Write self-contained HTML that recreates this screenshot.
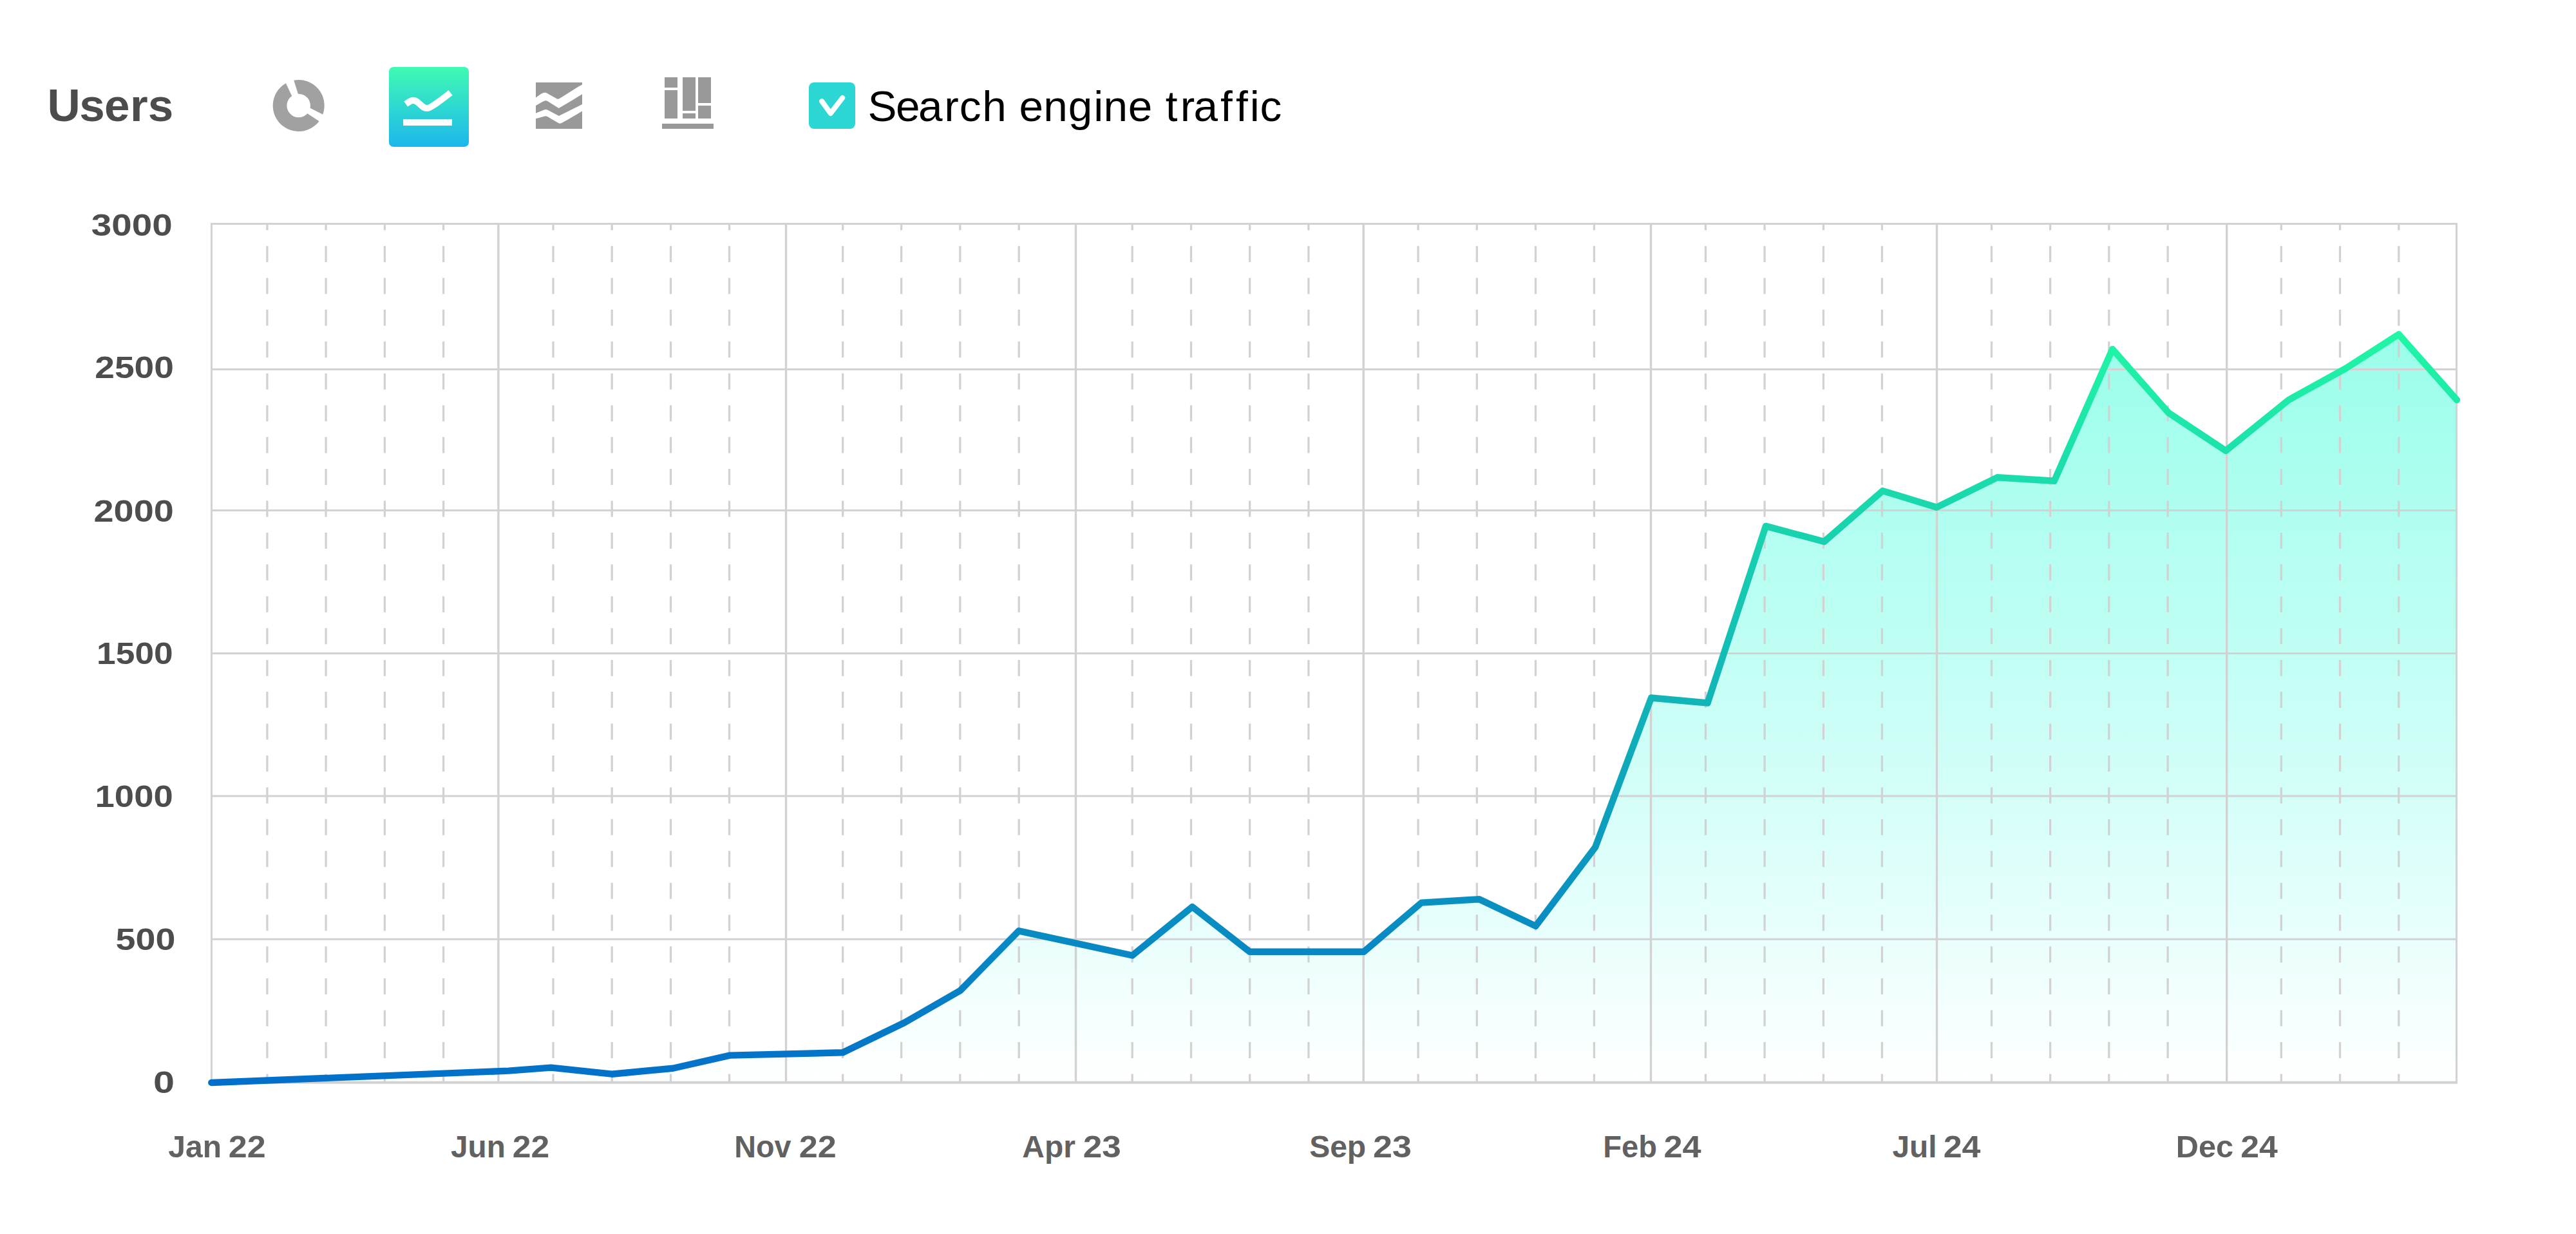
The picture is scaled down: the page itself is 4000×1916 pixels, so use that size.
<!DOCTYPE html>
<html lang="en"><head><meta charset="utf-8"><title>Users</title>
<style>
html,body{margin:0;padding:0;background:#fff;}
body{width:4000px;height:1916px;overflow:hidden;font-family:"Liberation Sans",sans-serif;}
svg{display:block;position:absolute;left:0;top:0;}
text{font-family:"Liberation Sans",sans-serif;}
</style></head><body>
<svg width="4000" height="1916" viewBox="0 0 4000 1916">
<defs>
<linearGradient id="gLine" gradientUnits="userSpaceOnUse" x1="0" y1="519" x2="0" y2="1681">
<stop offset="0" stop-color="#20F6A5"/><stop offset="1" stop-color="#0270CA"/></linearGradient>
<linearGradient id="gFill" gradientUnits="userSpaceOnUse" x1="0" y1="519" x2="0" y2="1681">
<stop offset="0" stop-color="#28FDD2" stop-opacity="0.47"/><stop offset="0.414" stop-color="#28FDD8" stop-opacity="0.295"/><stop offset="0.758" stop-color="#28FDE2" stop-opacity="0.13"/><stop offset="1" stop-color="#28FDEA" stop-opacity="0"/></linearGradient>
<linearGradient id="gBtn" x1="0" y1="0" x2="0" y2="1">
<stop offset="0" stop-color="#40FAB3"/><stop offset="1" stop-color="#1CB7ED"/></linearGradient>
</defs>

<text x="73.60 123.26 161.93 202.08 229.76" y="187.70" font-size="71" font-weight="bold" fill="#4C4C4C" style="font-variant-ligatures:none;font-kerning:none">Users</text>
<g fill="#A1A1A1"><path d="M443.86 129.26 A40.0 40.0 0 1 0 495.58 188.16 L477.29 176.26 A18.3 18.3 0 1 1 453.25 148.98 Z"/><path d="M456.28 124.69 A40.0 40.0 0 0 1 501.30 177.65 L481.62 167.71 A18.3 18.3 0 0 0 462.84 145.72 Z"/></g>
<rect x="604" y="104" width="124" height="124" rx="7" fill="url(#gBtn)"/>
<rect x="626" y="185" width="76" height="10" fill="#fff"/>
<path d="M630.2 161.5 C636 157.5 640 154.5 645 156.5 C651 159 656 168.5 663.5 168 C669 167.7 684 156 699.6 144" fill="none" stroke="#fff" stroke-width="10"/>
<g fill="#999" transform="translate(832 128)">
<path d="M0 0 H72 V3.6 C69 5 67 6 65 7.3 L40 23 C37 25 35 26.3 33 25.6 L17 16.5 C15 15.4 13.5 15.4 11.5 16.2 C7 18 3 21 0 23.7 Z"/>
<path d="M0 36.1 C4 33.5 8 31 12 29.2 C14.5 28 16.5 28 18.5 29.2 L35.7 40.1 C48 33 60 25.5 72 18.2 V34 L35.8 51.9 L19 43 C17 42 15 41.8 13 42.5 L0 47.8 Z"/>
<path d="M0 56.3 L12 53 C14.5 52.2 16 52 18 53 L35 63 C36.5 64 37.5 64 39.5 63.3 C50 57.5 61 51 72 44.4 V72 H0 Z"/>
</g>
<g fill="#999">
<rect x="1028" y="192" width="80" height="8"/>
<rect x="1032" y="120" width="20" height="16"/><rect x="1032" y="140" width="20" height="44"/>
<rect x="1060" y="120" width="20" height="52"/><rect x="1060" y="176" width="20" height="8"/>
<rect x="1084" y="120" width="20" height="40"/><rect x="1084" y="164" width="20" height="20"/>
</g>
<rect x="1256" y="128" width="72" height="72" rx="8" fill="#2CD6D3"/>
<path d="M1276.1 157.2 L1289.7 176 L1308.2 151.9" fill="none" stroke="#fff" stroke-width="8" stroke-linecap="round" stroke-linejoin="round"/>
<text x="1347.56 1391.00 1425.90 1466.23 1489.73 1525.33 1562.87 1582.50 1620.33 1658.84 1698.22 1713.43 1751.75 1789.29 1809.71 1832.83 1853.50 1895.10 1918.90 1940.72 1956.58" y="187.90" font-size="67.5" font-weight="normal" fill="#000" style="font-variant-ligatures:none;font-kerning:none">Search engine traffic</text>
<path d="M328.3 1681.0 L789.7 1662.6 L855.4 1657.6 L950.0 1667.7 L1045.0 1658.8 L1133.4 1638.6 L1308.7 1634.3 L1404.6 1587.7 L1491.1 1538.0 L1581.9 1445.3 L1758.3 1483.5 L1851.4 1408.0 L1940.6 1477.8 L2117.8 1477.8 L2207.2 1401.6 L2297.0 1396.2 L2384.6 1437.9 L2477.2 1315.4 L2564.0 1083.5 L2651.5 1091.5 L2741.9 816.9 L2832.6 841.0 L2923.4 762.1 L3007.3 787.7 L3101.3 741.3 L3189.8 746.8 L3280.2 542.1 L3367.5 641.1 L3456.2 699.9 L3553.8 621.0 L3642.3 572.1 L3724.8 519.2 L3815.0 621.0 L3814.5 1680.6 L328.5 1680.6 Z" fill="url(#gFill)"/>
<g stroke="#D2D2D2" stroke-width="3" fill="none">
<path d="M328.5 573.4 H3814.5"/>
<path d="M328.5 792.6 H3814.5"/>
<path d="M328.5 1014.5 H3814.5"/>
<path d="M328.5 1236.1 H3814.5"/>
<path d="M328.5 1458.2 H3814.5"/>
<path d="M773.9 347.5 V1680.6" stroke-width="3.4"/>
<path d="M1220.5 347.5 V1680.6" stroke-width="3.4"/>
<path d="M1670.5 347.5 V1680.6" stroke-width="3.4"/>
<path d="M2117.2 347.5 V1680.6" stroke-width="3.4"/>
<path d="M2563.5 347.5 V1680.6" stroke-width="3.4"/>
<path d="M3007.5 347.5 V1680.6" stroke-width="3.4"/>
<path d="M3457.7 347.5 V1680.6" stroke-width="3.4"/>
<path d="M328.5 1680.6 V347.5 H3814.5 V1680.6"/>
<path d="M327.0 1680.8 H3816.0" stroke-width="4"/>
</g>
<g stroke="#D2D2D2" stroke-width="3.3" stroke-dasharray="25 24.44" stroke-dashoffset="15" fill="none">
<path d="M414.9 347.5 V1680.6"/>
<path d="M506.1 347.5 V1680.6"/>
<path d="M597.4 347.5 V1680.6"/>
<path d="M688.6 347.5 V1680.6"/>
<path d="M859 347.5 V1680.6"/>
<path d="M950.2 347.5 V1680.6"/>
<path d="M1041.5 347.5 V1680.6"/>
<path d="M1132.5 347.5 V1680.6"/>
<path d="M1308.7 347.5 V1680.6"/>
<path d="M1399.6 347.5 V1680.6"/>
<path d="M1490.8 347.5 V1680.6"/>
<path d="M1582.2 347.5 V1680.6"/>
<path d="M1758.2 347.5 V1680.6"/>
<path d="M1849.5 347.5 V1680.6"/>
<path d="M1940.7 347.5 V1680.6"/>
<path d="M2031.9 347.5 V1680.6"/>
<path d="M2202.1 347.5 V1680.6"/>
<path d="M2293.3 347.5 V1680.6"/>
<path d="M2384.5 347.5 V1680.6"/>
<path d="M2475.4 347.5 V1680.6"/>
<path d="M2648.5 347.5 V1680.6"/>
<path d="M2740.1 347.5 V1680.6"/>
<path d="M2831.4 347.5 V1680.6"/>
<path d="M2922.4 347.5 V1680.6"/>
<path d="M3092.5 347.5 V1680.6"/>
<path d="M3183.6 347.5 V1680.6"/>
<path d="M3274.8 347.5 V1680.6"/>
<path d="M3366.1 347.5 V1680.6"/>
<path d="M3542.3 347.5 V1680.6"/>
<path d="M3633.5 347.5 V1680.6"/>
<path d="M3724.8 347.5 V1680.6"/>
</g>
<path d="M328.3 1681.0 L789.7 1662.6 L855.4 1657.6 L950.0 1667.7 L1045.0 1658.8 L1133.4 1638.6 L1308.7 1634.3 L1404.6 1587.7 L1491.1 1538.0 L1581.9 1445.3 L1758.3 1483.5 L1851.4 1408.0 L1940.6 1477.8 L2117.8 1477.8 L2207.2 1401.6 L2297.0 1396.2 L2384.6 1437.9 L2477.2 1315.4 L2564.0 1083.5 L2651.5 1091.5 L2741.9 816.9 L2832.6 841.0 L2923.4 762.1 L3007.3 787.7 L3101.3 741.3 L3189.8 746.8 L3280.2 542.1 L3367.5 641.1 L3456.2 699.9 L3553.8 621.0 L3642.3 572.1 L3724.8 519.2 L3815.0 621.0" fill="none" stroke="url(#gLine)" stroke-width="10.4" stroke-linecap="round" stroke-linejoin="round"/>
<text x="141.68" y="365.91" font-size="48.5" font-weight="bold" fill="#4D4D4D" textLength="125.96" lengthAdjust="spacingAndGlyphs">3000</text>
<text x="147.27" y="587.41" font-size="48.5" font-weight="bold" fill="#4D4D4D" textLength="122.72" lengthAdjust="spacingAndGlyphs">2500</text>
<text x="145.54" y="810.01" font-size="48.5" font-weight="bold" fill="#4D4D4D" textLength="124.27" lengthAdjust="spacingAndGlyphs">2000</text>
<text x="150.14" y="1031.32" font-size="48.5" font-weight="bold" fill="#4D4D4D" textLength="118.58" lengthAdjust="spacingAndGlyphs">1500</text>
<text x="147.56" y="1253.22" font-size="48.5" font-weight="bold" fill="#4D4D4D" textLength="121.20" lengthAdjust="spacingAndGlyphs">1000</text>
<text x="179.63" y="1474.92" font-size="48.5" font-weight="bold" fill="#4D4D4D" textLength="92.81" lengthAdjust="spacingAndGlyphs">500</text>
<text x="238.03" y="1696.52" font-size="48.5" font-weight="bold" fill="#4D4D4D" textLength="33.02" lengthAdjust="spacingAndGlyphs">0</text>
<text y="1797.00" font-size="48" font-weight="bold" fill="#616161"><tspan x="261.28" textLength="82.76" lengthAdjust="spacingAndGlyphs">Jan</tspan> <tspan x="354.78" textLength="57.93" lengthAdjust="spacingAndGlyphs">22</tspan></text>
<text y="1797.00" font-size="48" font-weight="bold" fill="#616161"><tspan x="700.08" textLength="84.82" lengthAdjust="spacingAndGlyphs">Jun</tspan> <tspan x="795.79" textLength="57.39" lengthAdjust="spacingAndGlyphs">22</tspan></text>
<text y="1797.00" font-size="48" font-weight="bold" fill="#616161"><tspan x="1140.16" textLength="88.23" lengthAdjust="spacingAndGlyphs">Nov</tspan> <tspan x="1240.77" textLength="58.04" lengthAdjust="spacingAndGlyphs">22</tspan></text>
<text y="1797.00" font-size="48" font-weight="bold" fill="#616161"><tspan x="1587.30" textLength="82.62" lengthAdjust="spacingAndGlyphs">Apr</tspan> <tspan x="1681.74" textLength="59.15" lengthAdjust="spacingAndGlyphs">23</tspan></text>
<text y="1797.00" font-size="48" font-weight="bold" fill="#616161"><tspan x="2033.16" textLength="88.01" lengthAdjust="spacingAndGlyphs">Sep</tspan> <tspan x="2131.91" textLength="60.00" lengthAdjust="spacingAndGlyphs">23</tspan></text>
<text y="1797.00" font-size="48" font-weight="bold" fill="#616161"><tspan x="2489.34" textLength="83.57" lengthAdjust="spacingAndGlyphs">Feb</tspan> <tspan x="2583.47" textLength="58.11" lengthAdjust="spacingAndGlyphs">24</tspan></text>
<text y="1797.00" font-size="48" font-weight="bold" fill="#616161"><tspan x="2938.38" textLength="69.06" lengthAdjust="spacingAndGlyphs">Jul</tspan> <tspan x="3017.68" textLength="57.80" lengthAdjust="spacingAndGlyphs">24</tspan></text>
<text y="1797.00" font-size="48" font-weight="bold" fill="#616161"><tspan x="3378.84" textLength="89.30" lengthAdjust="spacingAndGlyphs">Dec</tspan> <tspan x="3479.39" textLength="57.49" lengthAdjust="spacingAndGlyphs">24</tspan></text>
</svg></body></html>
